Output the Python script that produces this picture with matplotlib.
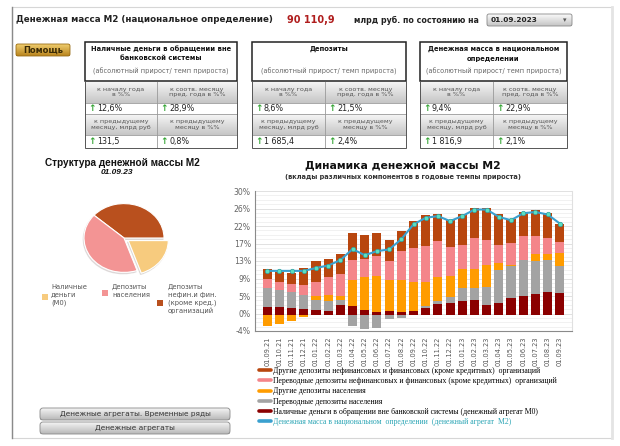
import numpy as np
import matplotlib.pyplot as plt
import matplotlib.colors as mcolors
from matplotlib.patches import Rectangle, FancyBboxPatch
from matplotlib.lines import Line2D

W, H = 620, 446

# ---- data ----
dates = ['01.09.21', '01.10.21', '01.11.21', '01.12.21', '01.01.22', '01.02.22',
         '01.03.22', '01.04.22', '01.05.22', '01.06.22', '01.07.22', '01.08.22',
         '01.09.22', '01.10.22', '01.11.22', '01.12.22', '01.01.23', '01.02.23',
         '01.03.23', '01.04.23', '01.05.23', '01.06.23', '01.07.23', '01.08.23',
         '01.09.23']
m0 = [1.8, 1.8, 1.5, 1.3, 1.1, 0.9, 2.3, 2.1, 1.1, 0.7, 0.8, 0.65, 0.9,
      1.7, 2.6, 2.8, 3.3, 3.5, 2.4, 2.8, 4.0, 4.6, 5.0, 5.4, 5.3]
hh_transfer = [4.6, 4.1, 3.9, 3.5, 2.5, 2.4, 1.3, -2.8, -3.6, -3.2, -1.1, -0.9, 0.0,
               0.4, 0.8, 1.4, 3.2, 3.0, 4.3, 7.9, 7.9, 8.6, 7.9, 7.8, 6.4]
hh_other = [-2.9, -2.3, -1.5, -0.5, 1.0, 1.5, 1.0, 6.4, 8.0, 8.7, 7.7, 7.85, 7.1,
            5.9, 5.6, 5.2, 4.6, 4.6, 5.4, 1.7, 0.2, 0.1, 1.9, 1.6, 3.2]
org_transfer = [2.2, 2.0, 2.0, 2.4, 3.4, 4.2, 5.3, 4.8, 4.4, 4.9, 4.6, 7.0, 8.2,
                8.7, 8.8, 6.9, 5.7, 7.4, 5.9, 4.4, 5.3, 5.8, 4.2, 3.8, 2.7]
org_other = [2.5, 2.4, 2.8, 4.2, 5.0, 4.4, 4.7, 6.5, 5.8, 5.5, 4.9, 4.7, 6.6,
             7.4, 6.7, 6.6, 7.5, 7.4, 7.9, 7.5, 5.9, 5.9, 6.4, 6.1, 4.5]
m2 = [10.6, 10.6, 10.6, 10.6, 11.3, 11.9, 13.2, 15.9, 14.4, 15.4, 15.8, 18.3, 21.9,
      23.5, 23.9, 22.7, 23.9, 25.5, 25.5, 23.7, 22.9, 24.6, 24.9, 24.3, 22.1]

ytick_vals = np.linspace(-4, 30, 9)
ytick_labels = ['-4%', '0%', '5%', '9%', '13%', '17%', '22%', '26%', '30%']

series_labels = [
    'Другие депозиты нефинансовых и финансовых (кроме кредитных)  организаций',
    'Переводные депозиты нефинансовых и финансовых (кроме кредитных)  организаций',
    'Другие депозиты населения',
    'Переводные депозиты населения',
    'Наличные деньги в обращении вне банковской системы (денежный агрегат М0)',
    'Денежная масса в национальном  определении  (денежный агрегат  М2)',
]

pie_shares = [38.5, 41.8, 19.7]   # org deposits, household deposits, cash
pie_labels = ['Наличные\nденьги\n(М0)', 'Депозиты\nнаселения',
              'Депозиты\nнефин.и фин.\n(кроме кред.)\nорганизаций']

m2_total = '90 110,9'
report_date = '01.09.2023'
box_titles = [['Наличные деньги в обращении вне', 'банковской системы'],
              ['Депозиты'],
              ['Денежная масса в национальном', 'определении']]
box_values = [['12,6%', '28,9%', '131,5', '0,8%'],
              ['8,6%', '21,5%', '1 685,4', '2,4%'],
              ['9,4%', '22,9%', '1 816,9', '2,1%']]
hdr_row1 = ['к началу года\nв %%', 'к соотв. месяцу\nпред. года в %%']
hdr_row2 = ['к предыдущему\nмесяцу, млрд руб', 'к предыдущему\nмесяцу в %%']

c_brown, c_pink, c_orange, c_grey, c_dred = '#B8460E', '#F4858A', '#FF9C00', '#A3A3A3', '#8B0000'
c_line = '#3AA0CF'

fig = plt.figure(figsize=(6.2, 4.46), dpi=100)
bg = fig.add_axes([0, 0, 1, 1])
bg.set_autoscale_on(False)
bg.set_xlim(0, W)
bg.set_ylim(H, 0)
bg.axis('off')


def px_axes(x0, y0, x1, y1):
    return fig.add_axes([x0 / W, 1 - y1 / H, (x1 - x0) / W, (y1 - y0) / H])


def grad(x0, y0, x1, y1, top, bot, z=1):
    a, b = np.array(mcolors.to_rgb(top)), np.array(mcolors.to_rgb(bot))
    img = a + np.linspace(0, 1, 32)[:, None, None] * (b - a)
    bg.imshow(img, extent=(x0, x1, y1, y0), aspect='auto', zorder=z,
              interpolation='bilinear')


# page frame
bg.add_patch(Rectangle((12, 7), 600, 431, fill=False, ec='#d6d6d6', lw=0.8))
bg.plot([12, 12], [7, 438], color='#8a8a8a', lw=1)
bg.plot([612, 612], [7, 438], color='#e4e4e4', lw=2)

# header line
bg.text(16, 20, 'Денежная масса М2 (национальное определение)', fontsize=6.3,
        fontweight='bold', color='#222', va='center')
bg.text(287, 20, m2_total, fontsize=7, fontweight='bold', color='#B01E1E', va='center')
bg.text(354, 20, 'млрд руб. по состоянию на', fontsize=5.7, fontweight='bold',
        color='#222', va='center')
grad(487, 14, 572, 26, '#fafafa', '#c4c4c4')
bg.add_patch(FancyBboxPatch((487, 14), 85, 12, boxstyle='round,pad=0,rounding_size=2',
                            fill=False, ec='#888', lw=0.6, zorder=2))
bg.text(491, 20.5, report_date, fontsize=5.3, fontweight='bold', color='#222',
        va='center', zorder=3)
bg.text(565, 20.5, '▾', fontsize=5, color='#555', va='center', ha='center', zorder=3)

# help button
grad(16, 44, 70, 56, '#F0CD6E', '#B8841E')
bg.add_patch(FancyBboxPatch((16, 44), 54, 12, boxstyle='round,pad=0,rounding_size=2',
                            fill=False, ec='#9a6e18', lw=0.6, zorder=2))
bg.text(43, 50, 'Помощь', fontsize=6, fontweight='bold', color='#3a2a05',
        ha='center', va='center', zorder=3)

# info boxes
boxes = [(85, 157, 237), (252, 325, 406), (420, 493, 567)]
for (x0, xs, x1), title, vals in zip(boxes, box_titles, box_values):
    bg.add_patch(Rectangle((x0, 42), x1 - x0, 39, fc='white', ec='#222', lw=1.1, zorder=2))
    for i, line in enumerate(title):
        bg.text((x0 + x1) / 2, 48.5 + 10 * i, line, fontsize=4.9, fontweight='bold',
                color='#111', ha='center', va='center', zorder=3)
    bg.text((x0 + x1) / 2, 71, '(абсолютный прирост/ темп прироста)', fontsize=4.7,
            color='#666', ha='center', va='center', zorder=3)
    for (ya, yb), hdr in [((81, 103), hdr_row1), ((114, 135), hdr_row2)]:
        grad(x0, ya, xs, yb, '#f6f6f6', '#c6c6c6')
        grad(xs, ya, x1, yb, '#f6f6f6', '#c6c6c6')
        for cx, txt in zip([(x0 + xs) / 2, (xs + x1) / 2], hdr):
            bg.text(cx, (ya + yb) / 2, txt, fontsize=4.6, color='#555', ha='center',
                    va='center', linespacing=1.05, zorder=3)
    for (ya, yb), pair in [((103, 114), vals[:2]), ((135, 148), vals[2:])]:
        for cx, txt in zip([x0, xs], pair):
            bg.text(cx + 3, (ya + yb) / 2, '↑', fontsize=6.5, fontweight='bold',
                    color='#34A534', va='center', zorder=3)
            bg.text(cx + 12, (ya + yb) / 2, txt, fontsize=5.8, color='#222',
                    va='center', zorder=3)
    for yy in [103, 114, 135]:
        bg.plot([x0, x1], [yy, yy], color='#9a9a9a', lw=0.6, zorder=4)
    bg.plot([xs, xs], [81, 148], color='#9a9a9a', lw=0.6, zorder=4)
    bg.add_patch(Rectangle((x0, 81), x1 - x0, 67, fill=False, ec='#555', lw=0.7, zorder=4))

# pie section
bg.text(122, 163, 'Структура денежной массы М2', fontsize=7.2, fontweight='bold',
        family='Liberation Sans', color='#111', ha='center', va='center')
bg.text(117, 173, '01.09.23', fontsize=6, fontweight='bold', style='italic',
        family='Liberation Sans', color='#111', ha='center', va='center')
pax = px_axes(74, 195, 174, 281)
pax.pie(pie_shares, colors=['#B9501E', '#F39494', '#F7CB7E'], startangle=0,
        counterclock=True, explode=[0, 0, 0.13], radius=1,
        wedgeprops=dict(ec='white', lw=0.8), shadow=dict(ox=-0.015, oy=-0.03, alpha=0.12))
pax.set_xlim(-1.25, 1.25)
pax.set_ylim(-1.25, 1.25)
pax.set_aspect('auto')
pax.axis('off')

for (sx, sy, tx, col), lab in zip([(42, 294, 51, '#F7CB7E'), (102, 290, 112, '#F39494'),
                                   (157, 300, 168, '#B9501E')], pie_labels):
    bg.add_patch(Rectangle((sx, sy), 6, 6, fc=col, ec='none'))
    bg.text(tx, 284, lab, fontsize=4.9, color='#555', va='top', linespacing=1.3)

# bottom buttons
for y0, txt in [(408, 'Денежные агрегаты. Временные ряды'), (422, 'Денежные агрегаты')]:
    grad(40, y0, 230, y0 + 12, '#f4f4f4', '#b8b8b8')
    bg.add_patch(FancyBboxPatch((40, y0), 190, 12, boxstyle='round,pad=0,rounding_size=3',
                                fill=False, ec='#8a8a8a', lw=0.6, zorder=2))
    bg.text(135, y0 + 6, txt, fontsize=5.3, color='#333', ha='center', va='center', zorder=3)

# bar chart titles
bg.text(403, 165, 'Динамика денежной массы М2', fontsize=7.8, fontweight='bold',
        color='#111', ha='center', va='center')
bg.text(403, 177, '(вклады различных компонентов в годовые темпы прироста)', fontsize=4.8,
        fontweight='bold', color='#333', ha='center', va='center')

# stacked bar chart
ax = px_axes(255, 191, 572, 331)
x = np.arange(len(dates))
pos = np.zeros(len(dates))
neg = np.zeros(len(dates))
for vals, col in zip([m0, hh_transfer, hh_other, org_transfer, org_other],
                     [c_dred, c_grey, c_orange, c_pink, c_brown]):
    v = np.array(vals, dtype=float)
    ax.bar(x, v, 0.75, bottom=np.where(v >= 0, pos, neg), color=col, zorder=3)
    pos += np.clip(v, 0, None)
    neg += np.clip(v, None, 0)
ax.plot(x, m2, color=c_line, lw=1.5, marker='o', ms=3.2, mfc='#5CE0C0', mec='#2E9EA0',
        mew=0.5, zorder=4)

ax.set_xlim(-1, 25)
ax.set_ylim(-4, 30)
ax.set_yticks(ytick_vals)
ax.set_yticklabels(ytick_labels)
ax.set_yticks(np.linspace(-4, 30, 33), minor=True)
ax.set_xticks(x)
ax.set_xticklabels(dates, rotation=90)
ax.tick_params(axis='y', which='both', length=0, labelsize=5.6, labelcolor='#666', pad=3)
ax.tick_params(axis='x', length=0, labelsize=4.8, labelcolor='#555', pad=4)
ax.grid(axis='y', which='major', color='#dcdcdc', lw=0.6, zorder=0)
ax.grid(axis='y', which='minor', color='#ececec', lw=0.5, zorder=0)
ax.spines['top'].set_visible(False)
ax.spines['right'].set_color('#e0e0e0')
ax.spines['left'].set_color('#8a8a8a')
ax.spines['bottom'].set_color('#8a8a8a')

handles = [Line2D([], [], color=c, lw=2.6, solid_capstyle='round')
           for c in [c_brown, c_pink, c_orange, c_grey, c_dred, c_line]]
leg = fig.legend(handles, series_labels, loc='upper left',
                 bbox_to_anchor=(259 / W, 1 - 367 / H), frameon=False,
                 prop=dict(family='Liberation Serif', size=5.6), handlelength=1.6,
                 handletextpad=0.15, labelspacing=0.28, borderpad=0, borderaxespad=0)
leg.get_texts()[-1].set_color('#2BA5B5')

fig.savefig('out.png', dpi=100)
